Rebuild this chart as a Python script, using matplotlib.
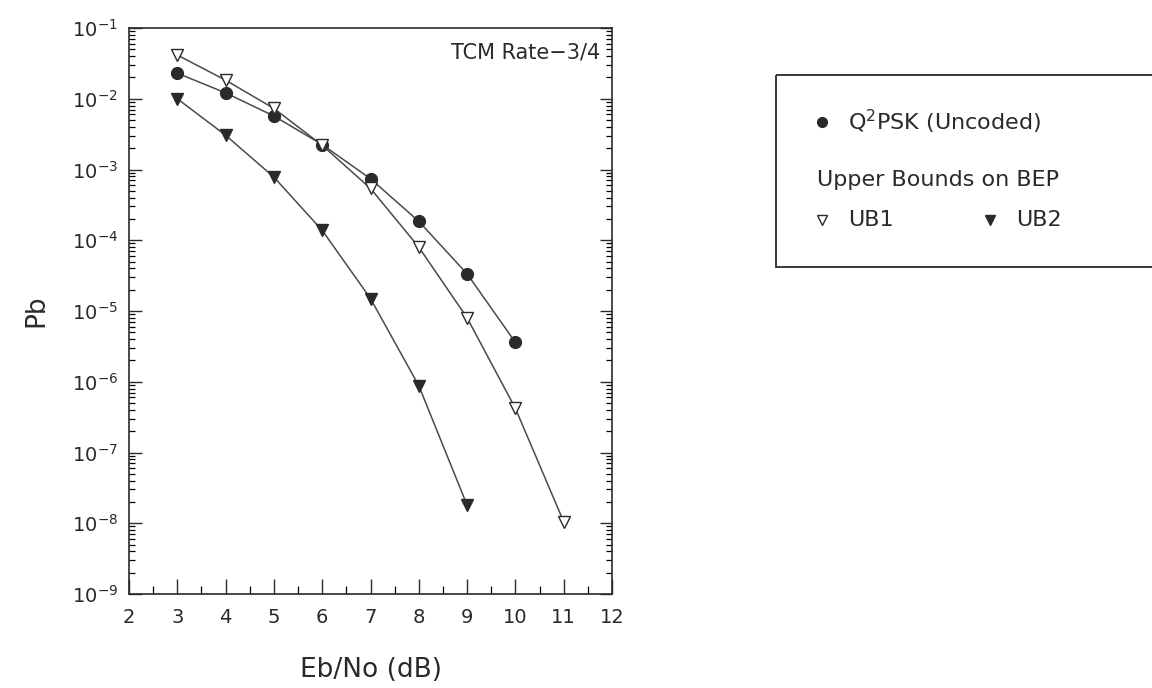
import matplotlib
matplotlib.use("Agg")
import matplotlib.pyplot as plt
from matplotlib.ticker import LogLocator, MultipleLocator, LogFormatterMathtext, NullFormatter
from matplotlib.patches import Rectangle

# ---------------- data ----------------
ebno_q2psk = [3, 4, 5, 6, 7, 8, 9, 10]
pb_q2psk = [2.3e-2, 1.21e-2, 5.7e-3, 2.25e-3, 7.4e-4, 1.85e-4, 3.35e-5, 3.6e-6]

ebno_ub1 = [3, 4, 5, 6, 7, 8, 9, 10, 11]
pb_ub1 = [4.15e-2, 1.83e-2, 7.3e-3, 2.2e-3, 5.4e-4, 8.0e-5, 8.0e-6, 4.2e-7, 1.05e-8]

ebno_ub2 = [3, 4, 5, 6, 7, 8, 9]
pb_ub2 = [1.0e-2, 3.05e-3, 7.8e-4, 1.38e-4, 1.5e-5, 8.8e-7, 1.8e-8]

x_ticks = [2, 3, 4, 5, 6, 7, 8, 9, 10, 11, 12]
title_text = "TCM Rate\u22123/4"
x_label = "Eb/No (dB)"
y_label = "Pb"
legend_main = "Q$^2$PSK (Uncoded)"
legend_header = "Upper Bounds on BEP"
legend_ub1 = "UB1"
legend_ub2 = "UB2"

# ---------------- style ----------------
plt.rcParams['font.family'] = ['DejaVu Sans']
plt.rcParams['mathtext.default'] = 'regular'
ink = '#2a2a2a'
line_c = '#4a4a4a'

W, H = 1152, 688
fig = plt.figure(figsize=(W / 100, H / 100), dpi=100)
fig.patch.set_facecolor('white')

ax_l, ax_r, ax_t, ax_b = 129, 612, 28, 594
ax = fig.add_axes([ax_l / W, 1 - ax_b / H, (ax_r - ax_l) / W, (ax_b - ax_t) / H])

ax.plot(ebno_q2psk, pb_q2psk, '-', color=line_c, lw=1.1, marker='o', ms=8.5,
        mfc=ink, mec=ink, zorder=3)
ax.plot(ebno_ub1, pb_ub1, '-', color=line_c, lw=1.1, marker='v', ms=8.5,
        mfc='white', mec=ink, mew=1.0, zorder=3)
ax.plot(ebno_ub2, pb_ub2, '-', color=line_c, lw=1.1, marker='v', ms=8.5,
        mfc=ink, mec=ink, zorder=3)

ax.set_yscale('log')
ax.set_xlim(2, 12)
ax.set_ylim(1e-9, 1e-1)
ax.set_xticks(x_ticks)
ax.xaxis.set_minor_locator(MultipleLocator(0.5))
ax.yaxis.set_major_locator(LogLocator(base=10, numticks=20))
ax.yaxis.set_minor_locator(LogLocator(base=10, subs=range(2, 10), numticks=20))
ax.yaxis.set_major_formatter(LogFormatterMathtext())
ax.yaxis.set_minor_formatter(NullFormatter())

ax.tick_params(axis='y', which='major', direction='in', length=9, width=1.0,
               left=True, right=True, labelsize=14, colors=ink, pad=8)
ax.tick_params(axis='y', which='minor', direction='in', length=4.5, width=0.9,
               left=True, right=True)
ax.tick_params(axis='x', which='major', direction='in', length=11, width=1.0,
               top=False, bottom=True, labelsize=14, colors=ink, pad=10)
ax.tick_params(axis='x', which='minor', direction='in', length=5.5, width=0.9,
               top=False, bottom=True)
for s in ax.spines.values():
    s.set_color(ink)
    s.set_linewidth(1.2)

ax.set_xlabel(x_label, fontsize=19, color=ink, labelpad=22)
ax.set_ylabel(y_label, fontsize=19, color=ink, labelpad=16)

ax.text(0.975, 0.975, title_text, transform=ax.transAxes, ha='right', va='top',
        fontsize=15, color=ink)

# ---------------- legend box (pixel coordinates) ----------------
lg = fig.add_axes([0, 0, 1, 1], facecolor='none')
lg.set_xlim(0, W)
lg.set_ylim(H, 0)
lg.axis('off')
lg.add_patch(Rectangle((776, 75), 1200 - 776, 267 - 75, fill=False,
                       edgecolor=ink, lw=1.3, clip_on=False))
lg.plot([822], [122], marker='o', ms=7, mfc=ink, mec=ink, ls='none')
lg.text(848, 122, legend_main, fontsize=16, color=ink, va='center', ha='left')
lg.text(817, 180, legend_header, fontsize=16, color=ink, va='center', ha='left')
lg.plot([822], [220], marker='v', ms=7, mfc='white', mec=ink, mew=1.0, ls='none')
lg.text(848, 220, legend_ub1, fontsize=16, color=ink, va='center', ha='left')
lg.plot([990], [220], marker='v', ms=7, mfc=ink, mec=ink, ls='none')
lg.text(1016, 220, legend_ub2, fontsize=16, color=ink, va='center', ha='left')

fig.savefig('out.png', dpi=100, facecolor='white')
